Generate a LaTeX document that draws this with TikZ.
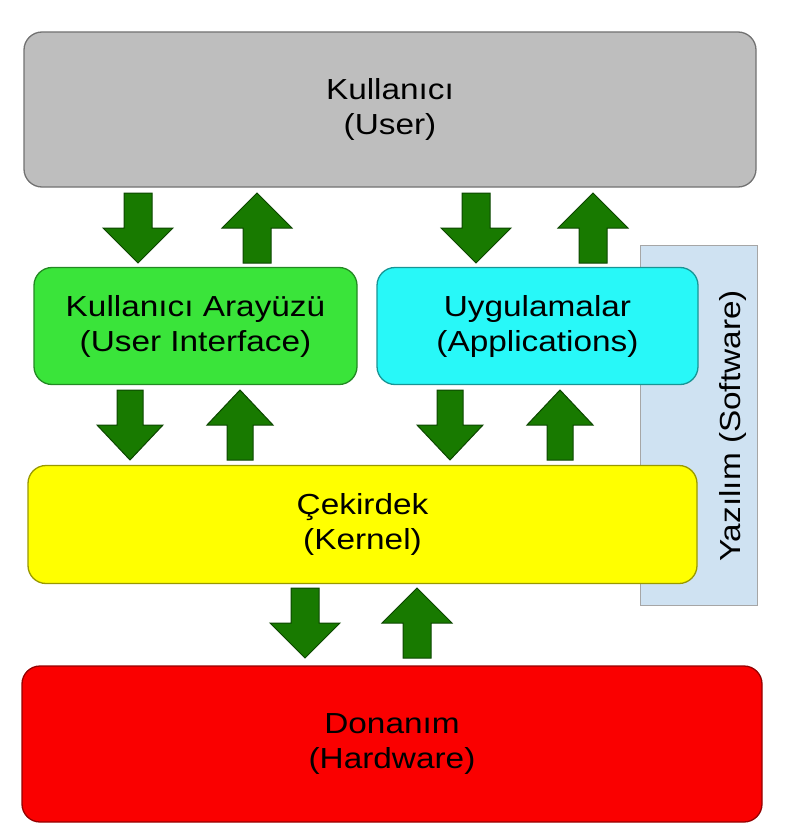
\documentclass[tikz,border=0pt]{standalone}
\usepackage{fontspec}
\setmainfont[FakeStretch=1.15]{Liberation Sans}
\definecolor{cuser}{RGB}{190,190,190}
\definecolor{cui}{RGB}{58,228,58}
\definecolor{capp}{RGB}{40,248,248}
\definecolor{ckern}{RGB}{255,255,0}
\definecolor{chw}{RGB}{250,0,0}
\definecolor{csw}{RGB}{207,226,242}
\definecolor{carr}{RGB}{24,122,0}
\definecolor{carrb}{RGB}{12,70,0}
\tikzset{
  layer/.style={draw=#1!60!black, fill=#1, rounded corners=18pt, line width=1.3pt,
    align=center, inner sep=0pt, font=\fontsize{29}{35}\selectfont},
  blk/.style={fill=carr, draw=carrb, line width=1pt, line join=miter},
}
\newcommand{\dnarrow}[4]{% cx, top, head half width, shaft half width
  \draw[blk] (#1-#4,#2) -- (#1+#4,#2) -- (#1+#4,#2+35) -- (#1+#3,#2+35) -- (#1,#2+70)
    -- (#1-#3,#2+35) -- (#1-#4,#2+35) -- cycle;}
\newcommand{\uparrowblk}[4]{%
  \draw[blk] (#1,#2) -- (#1+#3,#2+35) -- (#1+#4,#2+35) -- (#1+#4,#2+70) -- (#1-#4,#2+70)
    -- (#1-#4,#2+35) -- (#1-#3,#2+35) -- cycle;}
\begin{document}
\begin{tikzpicture}[x=1pt,y=-1pt]
\useasboundingbox (0,0) rectangle (811,840);
% software bar
\draw[fill=csw, draw=black!35, line width=1pt] (640,245) rectangle (757,605);
\node[rotate=90, font=\fontsize{29}{35}\selectfont, inner sep=0pt] (sw) at (733,426) {Yazılım (Software)};
% layers
\node[layer=cuser, minimum width=732pt, minimum height=155pt] (user) at (390,109.5) {Kullanıcı\\(User)};
\node[layer=cui, minimum width=323pt, minimum height=117pt] (ui) at (195.5,326) {Kullanıcı Arayüzü\\(User Interface)};
\node[layer=capp, minimum width=321pt, minimum height=117pt] (app) at (537.5,326) {Uygulamalar\\(Applications)};
\node[layer=ckern, minimum width=669pt, minimum height=118pt] (kern) at (362.5,524.5) {Çekirdek\\(Kernel)};
\node[layer=chw, minimum width=740pt, minimum height=156pt] (hw) at (392,744) {Donanım\\(Hardware)};
% arrows row 1
\dnarrow{138}{193}{35}{14}
\uparrowblk{257}{193}{35}{14}
\dnarrow{476}{193}{35}{14}
\uparrowblk{593}{193}{35}{14}
% arrows row 2
\dnarrow{130}{390}{33}{13}
\uparrowblk{240}{390}{33}{13}
\dnarrow{450}{390}{33}{13}
\uparrowblk{560}{390}{33}{13}
% arrows row 3
\dnarrow{305}{588}{35}{14}
\uparrowblk{417}{588}{35}{14}
\end{tikzpicture}
\end{document}
